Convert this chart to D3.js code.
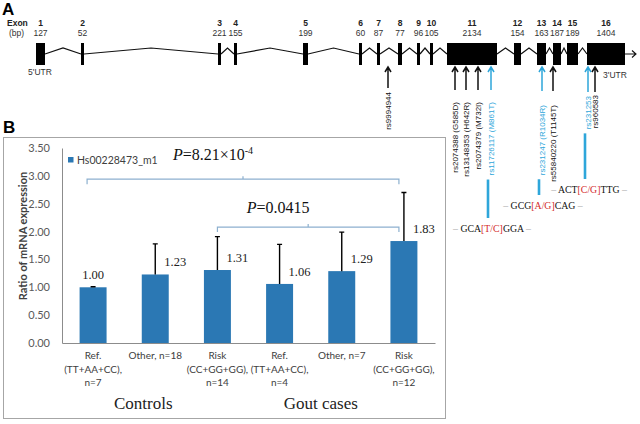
<!DOCTYPE html>
<html><head><meta charset="utf-8">
<script src="https://cdn.jsdelivr.net/npm/d3@7"></script>
<style>body{margin:0;background:#fff}svg{display:block}</style>
</head><body>
<svg id="c" width="640" height="424"></svg>
<script>
// ---------- Panel A data (gene schematic, map units) ----------
const exonNumbers = ["1","2","3","4","5","6","7","8","9","10","11","12","13","14","15","16"];
const exonLengths = [127,52,221,155,199,60,87,77,96,105,2134,154,163,187,189,1404];
const exonMapStart = [0,45,182,198,267,323,341,362,381,394,411,478,501,517,531,551];
const exonMapEnd   = [9,48,185,201,272,326,344,366,384,397,461,485,510,525,542,589];
const snpIds = ["rs9994944","rs2074388 (G585D)","rs13148353 (H642R)","rs2074379 (M732I)","rs11726117 (M861T)","rs231247 (R1034R)","rs55840220 (T1145T)","rs231253","rs960583"];
const snpMapPos = [352,419,430,442,455,506,517,552,559];
const snpRisk = [false,false,false,false,true,true,false,true,false];
const seqSnpIndex = [4,5,7];
const seqLeft = ["GCA","GCG","ACT"];
const seqAllele = ["[T/C]","[A/G]","[C/G]"];
const seqRight = ["GGA","CAG","TTG"];

// ---------- Panel B data ----------
const groupLabels = [["Ref.","(TT+AA+CC),","n=7"],["Other, n=18"],["Risk","(CC+GG+GG),","n=14"],["Ref.","(TT+AA+CC),","n=4"],["Other, n=7"],["Risk","(CC+GG+GG),","n=12"]];
const meanRatio = [1.00,1.23,1.31,1.06,1.29,1.83];
const sdRatio = [0.01,0.55,0.60,0.71,0.70,0.87];
const yTicks = [0,0.5,1,1.5,2,2.5,3,3.5];
const seriesName = "Hs00228473_m1";
const cohorts = ["Controls","Gout cases"];
const cohortFirst = [0,3];
const cohortLast = [2,5];
const comparisonFrom = [0,2];
const comparisonTo = [5,5];
const comparisonLevel = [2.94,2.08];
const comparisonP = ["8.21×10","0.0415"];
const comparisonExp = ["-4",""];

// ---------- layout ----------
const svg = d3.select("#c");
svg.append("rect").attr("width",640).attr("height",424).attr("fill","#fff");
const BLUE_SNP = "#2ea6da";
const sans = "'Liberation Sans', Arial, sans-serif";
const serif = "'Liberation Serif', 'Times New Roman', serif";
const cal = "Lato, 'Open Sans', sans-serif";

// ===== Panel A =====
const gA = svg.append("g");
gA.append("text").attr("x",2).attr("y",15).attr("font-family",sans).attr("font-weight","bold").attr("font-size",17).text("A");
gA.append("text").attr("x",7).attr("y",26).attr("font-family",sans).attr("font-weight","bold").attr("font-size",8.5).attr("fill","#222").text("Exon");
gA.append("text").attr("x",9).attr("y",36).attr("font-family",sans).attr("font-size",8.5).attr("fill","#333").text("(bp)");

const xMap = d3.scaleLinear().domain([0,589]).range([36,625]);
const exonTop = 43, exonBot = 65, mid = 54, peak = 48;
const exons = exonNumbers.map((n,i)=>({n, bp:exonLengths[i], s:exonMapStart[i], e:exonMapEnd[i]}));

for (let i=0;i<exons.length-1;i++){
  const x1 = xMap(exons[i].e), x2 = xMap(exons[i+1].s);
  gA.append("path").attr("d",`M${x1},${mid}L${(x1+x2)/2},${peak}L${x2},${mid}`)
    .attr("fill","none").attr("stroke","#111").attr("stroke-width",1.2);
}
const tailX = xMap(exons[exons.length-1].e);
gA.append("path").attr("d",`M${tailX},${mid}H${tailX+11}M${tailX+7},${mid-3.5}L${tailX+11},${mid}L${tailX+7},${mid+3.5}`)
  .attr("fill","none").attr("stroke","#111").attr("stroke-width",1.1);

gA.selectAll("rect.exon").data(exons).join("rect").attr("class","exon")
  .attr("x",d=>xMap(d.s)).attr("width",d=>Math.max(2.5,xMap(d.e)-xMap(d.s)))
  .attr("y",exonTop).attr("height",exonBot-exonTop).attr("fill","#000");
gA.selectAll("text.exn").data(exons).join("text").attr("class","exn")
  .attr("x",d=>(xMap(d.s)+xMap(d.e))/2).attr("y",26).attr("text-anchor","middle")
  .attr("font-family",sans).attr("font-weight","bold").attr("font-size",8.5).attr("fill","#222").text(d=>d.n);
gA.selectAll("text.exbp").data(exons).join("text").attr("class","exbp")
  .attr("x",d=>(xMap(d.s)+xMap(d.e))/2).attr("y",36).attr("text-anchor","middle")
  .attr("font-family",sans).attr("font-size",8.5).attr("fill","#333").text(d=>d.bp);
gA.append("text").attr("x",xMap(exons[0].s)+4).attr("y",75).attr("text-anchor","middle")
  .attr("font-family",sans).attr("font-size",8.5).attr("fill","#333").text("5'UTR");
gA.append("text").attr("x",xMap(exons[15].e)-10).attr("y",78).attr("text-anchor","middle")
  .attr("font-family",sans).attr("font-size",8.5).attr("fill","#333").text("3'UTR");

const arrowTip = 67;
const arrowTail = [88,90,90,90,90,91,91,92,92];
const labelTop = [92,102,102,102,102,105,105,96,95];
const snps = snpIds.map((id,i)=>({id, x:xMap(snpMapPos[i]), risk:snpRisk[i], tail:arrowTail[i], top:labelTop[i]}));
snps.forEach(s=>{
  const c = s.risk ? BLUE_SNP : "#111";
  gA.append("path").attr("d",`M${s.x},${s.tail}V${arrowTip}M${s.x-3},${arrowTip+5}L${s.x},${arrowTip}L${s.x+3},${arrowTip+5}`)
    .attr("fill","none").attr("stroke",c).attr("stroke-width",1.5);
  s.node = gA.append("text").attr("transform",`translate(${s.x+3},${s.top}) rotate(-90)`)
    .attr("text-anchor","end").attr("font-family",sans).attr("font-size",8).attr("fill",c).text(s.id);
  s.len = s.node.node().getComputedTextLength();
});

const seqCenterY = [228,205,189];
seqSnpIndex.forEach((si,k)=>{
  const s = snps[si];
  const y0 = s.top + s.len + 4, y1 = seqCenterY[k]-10;
  gA.append("line").attr("x1",s.x-3).attr("x2",s.x-3).attr("y1",y0).attr("y2",y1)
    .attr("stroke",BLUE_SNP).attr("stroke-width",2.6);
  const t = gA.append("text").attr("x",s.x+1).attr("y",seqCenterY[k]+3.5).attr("text-anchor","middle")
    .attr("font-family",serif).attr("font-size",9.8).attr("fill","#111");
  t.append("tspan").attr("fill","#aaa").text("– ");
  t.append("tspan").text(seqLeft[k]);
  t.append("tspan").attr("fill","#d42a2a").text(seqAllele[k]);
  t.append("tspan").text(seqRight[k]);
  t.append("tspan").attr("fill","#aaa").text(" –");
});

// ===== Panel B =====
svg.append("text").attr("x",3).attr("y",133).attr("font-family",sans).attr("font-weight","bold").attr("font-size",17).text("B");
svg.append("rect").attr("x",3.5).attr("y",137.5).attr("width",442).attr("height",281)
  .attr("fill","none").attr("stroke","#a6a6a6").attr("stroke-width",1);

const x = d3.scaleBand().domain(d3.range(meanRatio.length)).range([62,435]).paddingInner(0.566).paddingOuter(0.283);
const y = d3.scaleLinear().domain([0,3.5]).range([343,148]);
const gB = svg.append("g");

const yAxis = gB.append("g").attr("transform","translate(62,0)")
  .call(d3.axisLeft(y).tickValues(yTicks).tickFormat(d3.format(".2f")).tickSize(0).tickPadding(12));
yAxis.select(".domain").attr("stroke","#8c8c8c");
yAxis.selectAll("text").attr("font-family",cal).attr("font-size",11).attr("fill","#595959");

const xAxis = gB.append("g").attr("transform","translate(0,343)")
  .call(d3.axisBottom(x).tickSize(0).tickSizeOuter(0).tickFormat(""));
xAxis.select(".domain").attr("stroke","#8c8c8c");
xAxis.selectAll(".tick text").remove();
xAxis.selectAll(".tick").each(function(d){
  const t = d3.select(this).append("text").attr("text-anchor","middle")
    .attr("font-family",cal).attr("font-size",10).attr("fill","#404040");
  groupLabels[d].forEach((line,j)=>t.append("tspan").attr("x",0).attr("y",16+j*13.5).text(line));
});

svg.append("text").attr("transform","translate(27,236) rotate(-90)").attr("text-anchor","middle")
  .attr("font-family",cal).attr("font-weight","bold").attr("font-size",11).attr("fill","#404040")
  .text("Ratio of mRNA expression");

gB.selectAll("rect.bar").data(meanRatio).join("rect").attr("class","bar")
  .attr("x",(d,i)=>x(i)).attr("width",x.bandwidth())
  .attr("y",d=>y(d)).attr("height",d=>y(0)-y(d)).attr("fill","#2b78b4");
meanRatio.forEach((m,i)=>{
  const cx = x(i)+x.bandwidth()/2;
  gB.append("path").attr("d",`M${cx},${y(m)}V${y(m+sdRatio[i])}M${cx-2.5},${y(m+sdRatio[i])}H${cx+2.5}`)
    .attr("stroke","#000").attr("stroke-width",1.4).attr("fill","none");
});
gB.selectAll("text.val").data(meanRatio).join("text").attr("class","val")
  .attr("x",(d,i)=>x(i)+x.bandwidth()/2 + (i===0?0:9))
  .attr("text-anchor",(d,i)=>i===0?"middle":"start")
  .attr("y",d=>y(d)-8).attr("font-family",serif).attr("font-size",12.5).attr("fill","#222")
  .text(d=>d3.format(".2f")(d));

gB.append("rect").attr("x",68).attr("y",157).attr("width",5.5).attr("height",5.5).attr("fill","#2b78b4");
gB.append("text").attr("x",77).attr("y",164).attr("font-family",cal).attr("font-size",10.5).attr("fill","#404040").text(seriesName);

comparisonFrom.forEach((f,k)=>{
  const xa = x(f)+x.bandwidth()/2 - (k===0?6:0);
  const xb = x(comparisonTo[k])+x.bandwidth()/2 - 5;
  const yy = y(comparisonLevel[k]);
  const xm = (xa+xb)/2;
  gB.append("path").attr("d",`M${xa},${yy+5}V${yy}H${xb}V${yy+5}M${xm},${yy}V${yy-3}`)
    .attr("fill","none").attr("stroke","#8db0cf").attr("stroke-width",1.2);
  const t = gB.append("text").attr("x",xm-30).attr("y",yy-(k===0?19:14)).attr("text-anchor","middle")
    .attr("font-family",serif).attr("font-size",16).attr("fill","#111");
  t.append("tspan").attr("font-style","italic").text("P");
  t.append("tspan").text("="+comparisonP[k]);
  if (comparisonExp[k]) t.append("tspan").attr("font-size",10).attr("dy",-6).text(comparisonExp[k]);
});

const cohortShift = [-12,-21];
cohorts.forEach((c,k)=>{
  const cx = (x(cohortFirst[k])+x(cohortLast[k])+x.bandwidth())/2 + cohortShift[k];
  gB.append("text").attr("x",cx).attr("y",409).attr("text-anchor","middle")
    .attr("font-family",serif).attr("font-size",17).attr("fill","#222").text(c);
});
</script>
</body></html>
